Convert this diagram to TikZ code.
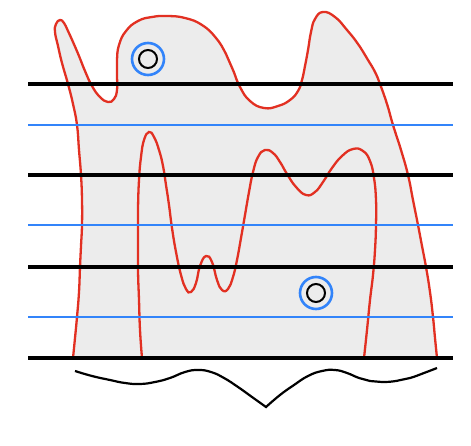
\documentclass[tikz,border=0pt]{standalone}
\usepackage{tikz}
\definecolor{shapered}{RGB}{226,48,34}
\definecolor{lineblue}{RGB}{50,132,250}
\definecolor{shapefill}{RGB}{236,236,236}

\begin{document}
\begin{tikzpicture}[x=1pt, y=-1pt]
    \useasboundingbox (0,0) rectangle (471,446);
    % Draw outer shape
    \filldraw[fill=shapefill, draw=shapered, line width=2.3pt, line join=round]
        plot[smooth, tension=0.8] coordinates {(73,358) (75,338) (77,317) (79,292) (80,267) (81,246) (82,225) (82,200) (81,175) (79,150) (77,125) (73,104) (68,84) (62,63) (58,46) (55,32) (56,24) (60,20) (64,23) (68,31) (73,42) (79,56) (85,71) (92,86) (100,97) (108,102) (114,99) (117,90) (117,75) (117,60) (119,45) (126,31) (138,21) (152,17) (167,16) (185,18) (202,25) (216,38) (226,54) (233,70) (240,87) (250,101) (264,108) (278,106) (290,100) (298,91) (302,80) (305,66) (308,50) (311,32) (315,19) (323,12) (335,17) (347,30) (358,44) (368,60) (375,72) (380,84) (387,104) (393,125) (401,150) (408,175) (413,200) (418,225) (422,246) (426,267) (430,292) (433,317) (435,338) (437,358)}
        -- cycle;
    % Draw inner curve
    \draw[shapered, line width=2.3pt]
        plot[smooth, tension=0.8] coordinates {(142,358) (140,330) (139,300) (138,270) (138,240) (138,210) (139,180) (141,157) (144,140) (149,132) (154,137) (159,150) (163,166) (166,185) (169,205) (172,228) (176,252) (181,275) (186,289) (191,292) (196,283) (200,266) (206,256) (212,262) (217,280) (222,290) (228,289) (233,277) (237,260) (241,238) (245,215) (249,192) (253,172) (258,157) (265,150) (273,153) (280,162) (287,174) (296,187) (306,195) (315,192) (323,182) (332,168) (342,156) (353,149) (363,151) (370,161) (374,178) (376,200) (376,225) (375,250) (373,275) (370,300) (367,330) (364,358)};
    % Draw blue lines
    \foreach \y in {125,225,317}
        \draw[lineblue, line width=2.6pt] (28,\y) -- (453,\y);
    % Draw black lines
    \foreach \y in {84,175,267,358}
        \draw[black, line width=3.8pt] (28,\y) -- (453,\y);
    % Draw rings
    \draw[lineblue, line width=2.6pt] (148,59) circle (16);
    \draw[black, line width=2pt] (148,59) circle (9);
    \draw[lineblue, line width=2.6pt] (316,293) circle (16);
    \draw[black, line width=2pt] (316,293) circle (9);
    % Draw brace
    \draw[black, line width=2.2pt, line join=miter]
        plot[smooth, tension=0.8] coordinates {(75,371) (92,376) (110,380) (125,383) (140,384) (155,382) (170,378) (185,372) (198,370) (211,372) (224,378) (238,387) (252,397) (266,407)}
        -- plot[smooth, tension=0.8] coordinates {(266,407) (280,395) (294,385) (308,376) (322,371) (335,370) (347,373) (359,378) (370,381) (382,382) (396,381) (410,378) (424,373) (437,368)};
\end{tikzpicture}
\end{document}
